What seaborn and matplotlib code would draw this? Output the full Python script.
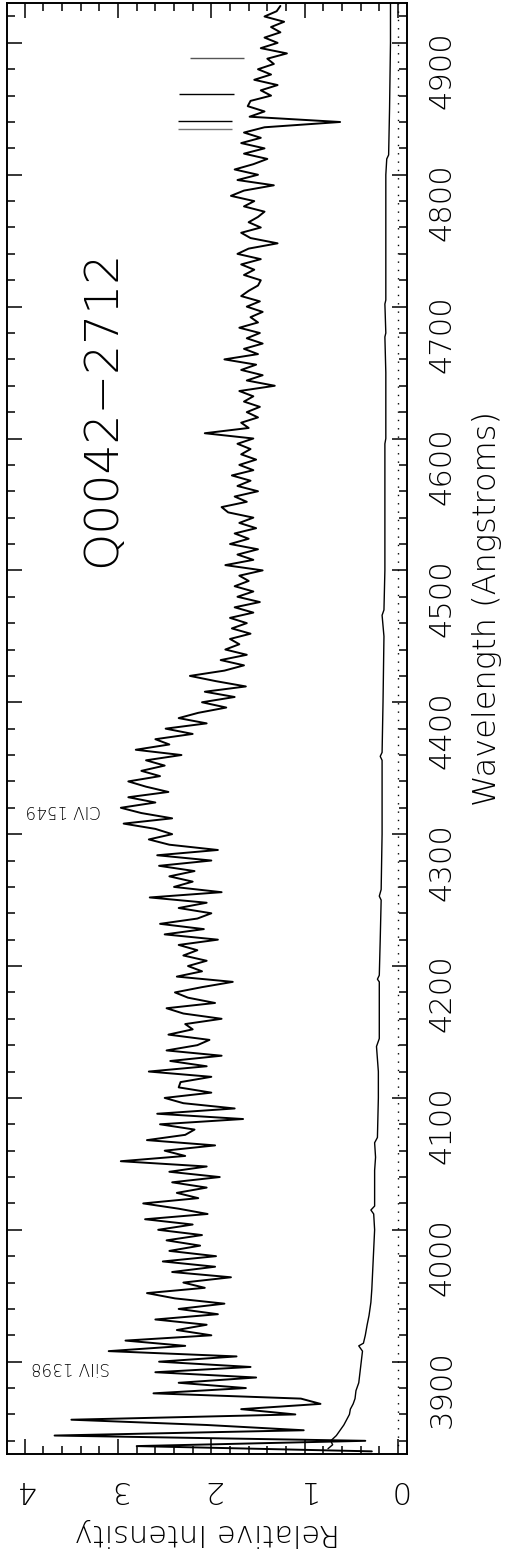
import numpy as np
import seaborn as sns
import matplotlib.pyplot as plt
from matplotlib.ticker import MultipleLocator

# Spectrum of Q0042-2712, sampled every 4 A starting at 3832 A
WL_START = 3832
WL_STEP = 4
flux = [
    0.28, 2.80, 0.35, 3.68, 1.01, 2.05, 3.50, 1.10, 1.68, 0.83,
    1.04, 2.62, 1.63, 2.35, 1.52, 2.60, 1.58, 2.56, 1.73, 3.10,
    2.28, 2.92, 2.00, 2.37, 2.05, 2.60, 1.93, 2.35, 1.86, 2.39,
    2.69, 2.07, 2.30, 1.79, 2.42, 1.96, 2.52, 1.95, 2.45, 2.12,
    2.48, 2.10, 2.57, 2.20, 2.71, 2.04, 2.35, 2.73, 2.14, 2.37,
    2.05, 2.42, 1.91, 2.45, 2.05, 2.97, 2.28, 2.50, 1.96, 2.69,
    2.28, 2.18, 2.55, 1.66, 2.58, 1.75, 2.30, 2.50, 2.00, 2.35,
    2.33, 2.00, 2.67, 2.05, 2.44, 1.89, 2.48, 2.15, 2.02, 2.46,
    2.20, 2.28, 1.89, 2.30, 2.48, 1.96, 2.25, 2.39, 2.10, 1.77,
    2.37, 2.10, 2.25, 2.05, 2.30, 2.15, 2.35, 1.93, 2.50, 2.08,
    2.55, 2.15, 2.00, 2.35, 2.05, 2.66, 1.89, 2.40, 2.20, 2.45,
    2.18, 2.56, 2.00, 2.58, 1.93, 2.45, 2.67, 2.42, 2.60, 2.94,
    2.42, 2.75, 2.97, 2.60, 2.89, 2.46, 2.70, 2.89, 2.55, 2.75,
    2.50, 2.70, 2.32, 2.81, 2.45, 2.60, 2.20, 2.49, 2.05, 2.35,
    2.14, 1.84, 2.10, 1.75, 2.07, 1.63, 1.95, 2.23, 1.86, 1.65,
    1.90, 1.62, 1.85, 1.70, 1.80, 1.58, 1.78, 1.62, 1.80, 1.55,
    1.75, 1.48, 1.72, 1.55, 1.75, 1.60, 1.70, 1.45, 1.85, 1.55,
    1.72, 1.50, 1.80, 1.60, 1.75, 1.52, 1.70, 1.55, 1.82, 1.89,
    1.62, 1.75, 1.50, 1.72, 1.58, 1.78, 1.55, 1.70, 1.52, 1.68,
    1.58, 1.72, 1.55, 2.07, 1.60, 1.68, 1.50, 1.62, 1.48, 1.65,
    1.55, 1.70, 1.32, 1.62, 1.45, 1.68, 1.52, 1.86, 1.50, 1.65,
    1.45, 1.62, 1.48, 1.70, 1.50, 1.58, 1.45, 1.62, 1.48, 1.68,
    1.60, 1.50, 1.47, 1.65, 1.54, 1.68, 1.47, 1.72, 1.60, 1.29,
    1.58, 1.68, 1.47, 1.60, 1.50, 1.43, 1.65, 1.54, 1.79, 1.65,
    1.33, 1.72, 1.50, 1.75, 1.55, 1.40, 1.65, 1.43, 1.68, 1.47,
    1.65, 1.43, 0.62, 1.59, 1.43, 1.61, 1.58, 1.36, 1.47, 1.29,
    1.54, 1.36, 1.50, 1.33, 1.40, 1.19, 1.47, 1.29, 1.43, 1.26,
    1.36, 1.22, 1.43, 1.30, 1.26,
]
wavelength = WL_START + WL_STEP * np.arange(len(flux))

# error spectrum
err_wl = [3834, 3837, 3840, 3844, 3848, 3852, 3856, 3860, 3864, 3868,
          3872, 3878, 3884, 3890, 3896, 3902, 3908, 3912, 3914, 3920,
          3928, 3935, 3945, 3955, 3970, 3985, 4000, 4012, 4015, 4018,
          4030, 4045, 4055, 4066, 4070, 4100, 4120, 4139, 4145, 4160,
          4188, 4190, 4193, 4220, 4250, 4253, 4258, 4300, 4330, 4356,
          4359, 4362, 4400, 4450, 4466, 4470, 4500, 4550, 4596, 4600,
          4650, 4677, 4680, 4702, 4705, 4750, 4800, 4812, 4815, 4850,
          4900, 4930]
err = [0.75, 0.70, 0.72, 0.66, 0.62, 0.58, 0.55, 0.52, 0.51, 0.48,
       0.46, 0.45, 0.42, 0.41, 0.40, 0.39, 0.38, 0.42, 0.37, 0.35,
       0.33, 0.31, 0.29, 0.28, 0.27, 0.26, 0.25, 0.26, 0.29, 0.25,
       0.25, 0.25, 0.24, 0.25, 0.22, 0.21, 0.21, 0.23, 0.20, 0.20,
       0.20, 0.22, 0.20, 0.19, 0.18, 0.20, 0.18, 0.17, 0.17, 0.17,
       0.19, 0.17, 0.16, 0.15, 0.17, 0.15, 0.14, 0.14, 0.14, 0.13,
       0.13, 0.14, 0.13, 0.14, 0.13, 0.13, 0.13, 0.12, 0.10, 0.09,
       0.08, 0.08]

# absorption line markers
marker_wl = [4888.2, 4860.9, 4840.7, 4834.8]
marker_lo = [1.65, 1.76, 1.78, 1.78]
marker_hi = [2.23, 2.35, 2.36, 2.36]
marker_col = ['#555555', 'black', 'black', '#777777']

sns.set_style('ticks')
plt.rcParams['font.family'] = ['DejaVu Sans']
plt.rcParams['font.weight'] = 'light'
plt.rcParams['axes.labelweight'] = 'light'
for key in ['text.color', 'axes.labelcolor', 'xtick.color', 'ytick.color']:
    plt.rcParams[key] = 'black'

fig = plt.figure(figsize=(5.28, 15.62), dpi=100)
ax = fig.add_axes([7 / 528, 1 - 1454 / 1562, 400 / 528, 1450.7 / 1562])

sns.lineplot(x=flux, y=wavelength, orient='y', sort=False, estimator=None,
             color='black', linewidth=1.4, ax=ax)
sns.lineplot(x=err, y=err_wl, orient='y', sort=False, estimator=None,
             color='black', linewidth=1.0, ax=ax)
ax.axvline(0, color='black', lw=1.0, ls=(0, (1, 5)))
ax.hlines(marker_wl, marker_lo, marker_hi, colors=marker_col, lw=1.0)

ax.set_xlim(4.19, -0.097)
ax.set_ylim(3830, 4930)

ax.xaxis.set_major_locator(MultipleLocator(1))
ax.xaxis.set_minor_locator(MultipleLocator(0.2))
ax.yaxis.set_major_locator(MultipleLocator(100))
ax.yaxis.set_minor_locator(MultipleLocator(20))
ax.tick_params(which='both', direction='in', top=True, bottom=True,
               left=True, right=True, labelleft=False, labelright=True,
               labeltop=False, labelbottom=True, color='black', width=1.1)
ax.tick_params(which='major', length=11)
ax.tick_params(which='minor', length=5.5)
ax.tick_params(axis='x', labelrotation=180, pad=15, labelsize=22)
ax.tick_params(axis='y', labelrotation=90, pad=15, labelsize=22)
for s in ax.spines.values():
    s.set_linewidth(1.4)
    s.set_color('black')

ax.set_xlabel('Relative Intensity', fontsize=22, rotation=180,
              fontweight='light')
ax.xaxis.set_label_coords(0.5, -0.044)
ax.yaxis.set_label_position('right')
ax.set_ylabel('Wavelength (Angstroms)', fontsize=23, rotation=90,
              fontweight='light')
ax.yaxis.set_label_coords(1.1625, 0.583)

ax.text(3.17, 4623, 'Q0042\u22122712', rotation=90, fontsize=34,
        ha='center', va='center')
ax.text(3.51, 3896, 'SiIV 1398', rotation=180, fontsize=12,
        ha='center', va='center')
ax.text(3.59, 4318, 'CIV 1549', rotation=180, fontsize=12,
        ha='center', va='center')

fig.savefig('out.png', dpi=100)
